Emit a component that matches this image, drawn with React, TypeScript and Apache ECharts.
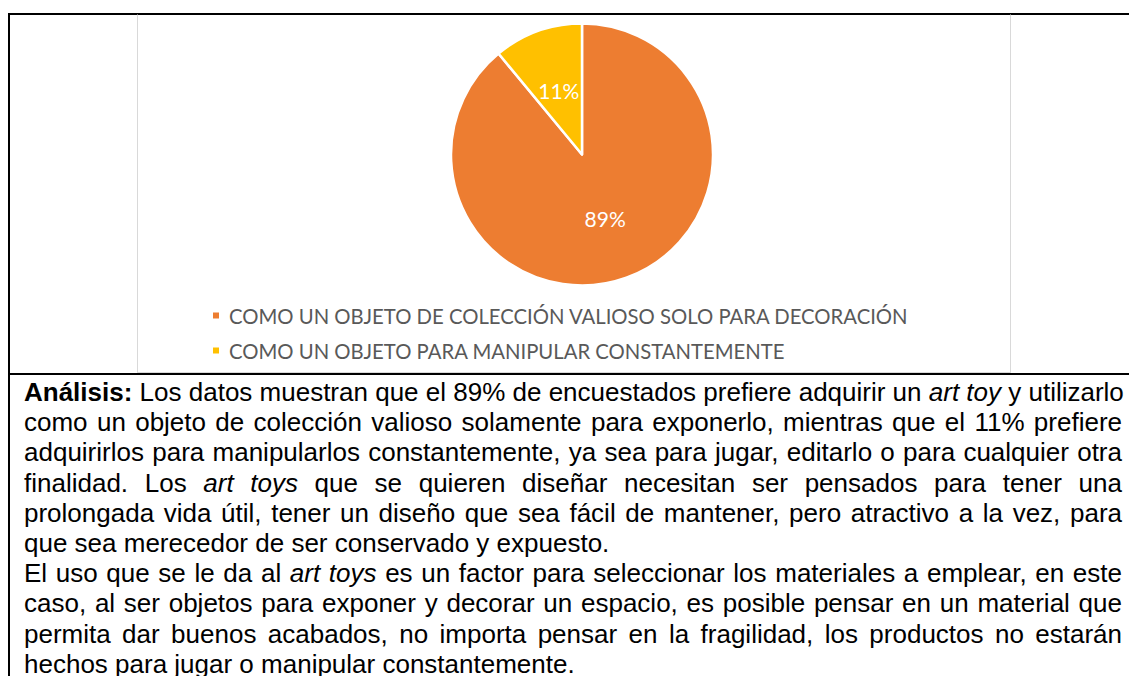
import React, { useEffect, useRef } from "react";
import * as echarts from "echarts";

const categories = [
  "COMO UN OBJETO DE COLECCIÓN VALIOSO SOLO PARA DECORACIÓN",
  "COMO UN OBJETO PARA MANIPULAR CONSTANTEMENTE",
];
const percentages = [89, 11];
const sliceColors = ["#ED7D31", "#FFC000"];

type Seg = { t: string; b?: boolean; i?: boolean };
const analysisLines: { segs: Seg[]; justify: boolean }[] = [
  {
    segs: [
      { t: "Análisis:", b: true },
      { t: " Los datos muestran que el 89% de encuestados prefiere adquirir un " },
      { t: "art toy", i: true },
      { t: " y utilizarlo" },
    ],
    justify: true,
  },
  { segs: [{ t: "como un objeto de colección valioso solamente para exponerlo, mientras que el 11% prefiere" }], justify: true },
  { segs: [{ t: "adquirirlos para manipularlos constantemente, ya sea para jugar, editarlo o para cualquier otra" }], justify: true },
  {
    segs: [
      { t: "finalidad.  Los " },
      { t: "art toys", i: true },
      { t: " que se quieren diseñar necesitan ser pensados para tener una" },
    ],
    justify: true,
  },
  { segs: [{ t: "prolongada vida útil, tener un diseño que sea fácil de mantener, pero atractivo a la vez, para" }], justify: true },
  { segs: [{ t: "que sea merecedor de ser conservado y expuesto." }], justify: false },
  {
    segs: [
      { t: "El uso que se le da al " },
      { t: "art toys", i: true },
      { t: " es un factor para seleccionar los materiales a emplear, en este" },
    ],
    justify: true,
  },
  { segs: [{ t: "caso, al ser objetos para exponer y decorar un espacio, es posible pensar en un material que" }], justify: true },
  { segs: [{ t: "permita dar buenos acabados, no importa pensar en la fragilidad, los productos no estarán" }], justify: true },
  { segs: [{ t: "hechos para jugar o manipular constantemente." }], justify: false },
];

function PieChart() {
  const ref = useRef<HTMLDivElement>(null);
  useEffect(() => {
    if (!ref.current) return;
    const chart = echarts.init(ref.current, undefined, { renderer: "svg" });
    const legendFont = {
      color: "#595959",
      fontSize: 20.3,
      fontFamily: "Lato, 'Open Sans', sans-serif",
      lineHeight: 18,
      padding: [0, 0, 0, 4],
    };
    const legendBase = {
      orient: "vertical",
      left: 73,
      padding: 0,
      icon: "rect",
      itemWidth: 8,
      itemHeight: 8,
      textStyle: legendFont,
      selectedMode: false,
    };
    chart.setOption({
      animation: false,
      backgroundColor: "#ffffff",
      legend: [
        { ...legendBase, data: [categories[0]], top: 290.5 },
        { ...legendBase, data: [categories[1]], top: 325.5 },
      ],
      series: [
        {
          type: "pie",
          center: [444, 139.5],
          radius: 131,
          startAngle: 90,
          clockwise: true,
          avoidLabelOverlap: false,
          itemStyle: { borderColor: "#ffffff", borderWidth: 2.5 },
          label: {
            show: true,
            position: "inside",
            formatter: "{c}%",
            color: "#ffffff",
            fontSize: 21,
            fontFamily: "Lato, 'Open Sans', sans-serif",
          },
          labelLine: { show: false },
          emphasis: { disabled: true },
          data: categories.map((name, i) => ({
            name,
            value: percentages[i],
            itemStyle: { color: sliceColors[i] },
          })),
        },
      ],
    });
    return () => chart.dispose();
  }, []);
  return <div ref={ref} style={{ width: 871, height: 357 }} />;
}

export default function App() {
  return (
    <div
      style={{
        position: "absolute",
        left: 0,
        top: 0,
        width: 1129,
        height: 676,
        overflow: "hidden",
        background: "#ffffff",
      }}
    >
      {/* table borders */}
      <div style={{ position: "absolute", left: 8, top: 13, width: 1121, height: 2, background: "#000" }} />
      <div style={{ position: "absolute", left: 8, top: 13, width: 2, height: 663, background: "#000" }} />
      <div style={{ position: "absolute", left: 8, top: 373, width: 1121, height: 2, background: "#000" }} />
      {/* chart frame */}
      <div
        style={{
          position: "absolute",
          left: 137,
          top: 14,
          width: 872,
          height: 357,
          border: "1px solid #d9d9d9",
          borderTop: "1px solid #000",
          background: "#fff",
        }}
      >
        <PieChart />
      </div>
      {/* analysis text */}
      {analysisLines.map((line, idx) => (
        <div
          key={idx}
          style={{
            position: "absolute",
            left: 24,
            top: 376.9 + idx * 30.2,
            width: 1098,
            height: 30.2,
            lineHeight: "30.2px",
            fontFamily: "'Liberation Sans', Arial, sans-serif",
            fontSize: 26,
            color: "#000",
            textAlign: line.justify ? "justify" : "left",
            textAlignLast: line.justify ? "justify" : "left",
            whiteSpace: "nowrap",
          }}
        >
          {line.segs.map((s, j) => (
            <span
              key={j}
              style={{ fontWeight: s.b ? "bold" : "normal", fontStyle: s.i ? "italic" : "normal" }}
            >
              {s.t}
            </span>
          ))}
        </div>
      ))}
    </div>
  );
}
